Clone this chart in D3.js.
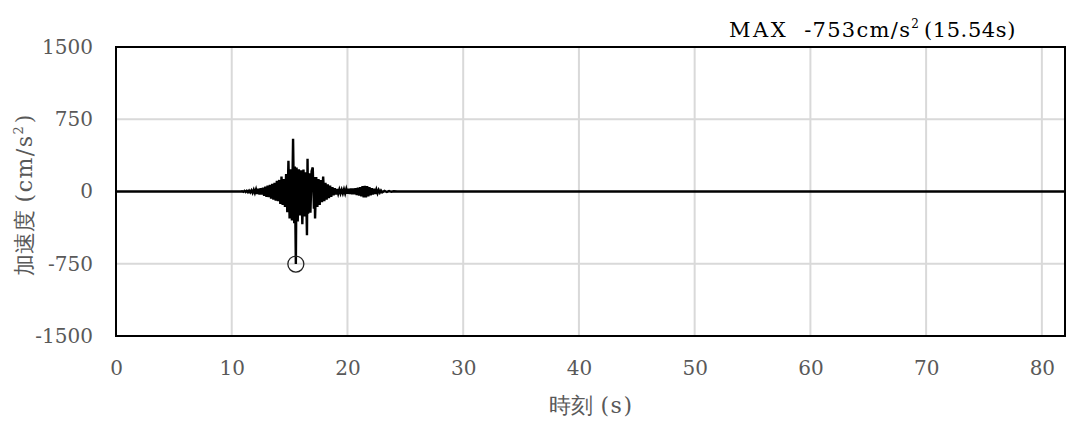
<!DOCTYPE html>
<html><head><meta charset="utf-8">
<script src="https://cdn.jsdelivr.net/npm/d3@7"></script>
<style>
html,body{margin:0;padding:0;background:#fff;}
svg{display:block;}
</style></head>
<body><svg id="c" width="1068" height="421"></svg>
<script>
const times = [0, 10.8, 10.9, 11.0, 11.1, 11.2, 11.3, 11.4, 11.5, 11.6, 11.7, 11.8, 11.9,
  12.0, 12.1, 12.2, 12.3, 12.4, 12.5, 12.6, 12.7, 12.8, 12.9,
  13.0, 13.1, 13.2, 13.3, 13.4, 13.5, 13.6, 13.7, 13.8, 13.9,
  14.0, 14.1, 14.2, 14.3, 14.4, 14.5, 14.6, 14.7, 14.8, 14.9,
  15.0, 15.1, 15.2, 15.3, 15.4, 15.45, 15.54, 15.6, 15.7, 15.8, 15.9,
  16.0, 16.1, 16.2, 16.3, 16.4, 16.5, 16.55, 16.6, 16.7, 16.8, 16.9,
  17.0, 17.1, 17.15, 17.2, 17.3, 17.4, 17.5, 17.6, 17.7, 17.8, 17.9,
  18.0, 18.1, 18.2, 18.3, 18.4, 18.5, 18.6, 18.7, 18.8, 18.9,
  19.0, 19.1, 19.2, 19.3, 19.4, 19.5, 19.6, 19.7, 19.8, 19.9,
  20.0, 20.1, 20.2, 20.3, 20.4, 20.5, 20.6, 20.7, 20.8, 20.9,
  21.0, 21.1, 21.2, 21.3, 21.4, 21.5, 21.6, 21.7, 21.8, 21.9,
  22.0, 22.1, 22.2, 22.3, 22.4, 22.5, 22.6, 22.7, 22.8, 22.9,
  23.0, 23.2, 23.4, 23.6, 23.8, 24.0, 24.3, 82];
const accel = [0, 0, 3, -4, 6, -5, 8, -7, 10, -9, 12, -14, 18,
  -16, 22, -25, 28, -30, 35, -32, 40, -45, 50,
  -55, 60, -58, 70, -75, 80, -85, 90, -95, 110,
  -100, 120, -130, 155, -140, 130, -160, 180, -215, 320,
  -280, 230, -300, 548, -330, 260, -753, 250, -310, 230, -250,
  220, -340, 228, -260, 200, -455, 340, -230, 190, -220, 210,
  250, -180, 150, -280, 150, -160, 130, -140, 120, -110, 155,
  -100, 90, -85, 75, -70, 60, -55, 45, -40, 35,
  -30, 25, -22, 20, -20, 18, -20, 22, -20, 25,
  -22, 28, -25, 30, -28, 32, -30, 35, -38, 40,
  -42, 45, -50, 55, -60, 58, -62, 55, -50, 45,
  -40, 35, -30, 28, -25, 20, -18, 15, -12, 10,
  -8, 6, -5, 4, -3, 2, 0, 0];
const xTicks = [0, 10, 20, 30, 40, 50, 60, 70, 80];
const yTicks = [1500, 750, 0, -750, -1500];
const peak = {t: 15.54, v: -753};
const titleLabel = "MAX";
const titleValue = "-753cm/s";
const titleSuffix = "(15.54s)";
const xTitleJa = "時刻";
const xTitleUnit = "(s)";
const yTitleJa = "加速度";
const yTitleUnit = "(cm/s";

const svg = d3.select("#c");
const L = 116, R = 1065, T = 47, B = 336;
const x = d3.scaleLinear().domain([0, 82]).range([L, R]);
const y = d3.scaleLinear().domain([-1500, 1500]).range([B, T]);
const serif = "'DejaVu Serif', serif";
const gray = "#595959";

// grid
svg.append("g").selectAll("line").data(xTicks.filter(d => d > 0)).join("line")
  .attr("x1", d => x(d)).attr("x2", d => x(d)).attr("y1", T).attr("y2", B)
  .attr("stroke", "#d9d9d9").attr("stroke-width", 2);
svg.append("g").selectAll("line").data(yTicks.filter(d => Math.abs(d) < 1500 && d !== 0)).join("line")
  .attr("x1", L).attr("x2", R).attr("y1", d => y(d)).attr("y2", d => y(d))
  .attr("stroke", "#d9d9d9").attr("stroke-width", 2);

// axes labels via d3 axes
const xAxis = svg.append("g").attr("transform", `translate(0,${B})`)
  .call(d3.axisBottom(x).tickValues(xTicks).tickSize(0).tickPadding(25).tickFormat(d3.format("d")));
xAxis.select(".domain").remove();
xAxis.selectAll("text").attr("font-family", serif).attr("font-size", 20).attr("fill", gray);

const yAxis = svg.append("g").attr("transform", `translate(${L},0)`)
  .call(d3.axisLeft(y).tickValues(yTicks).tickSize(0).tickPadding(23).tickFormat(d => String(d)));
yAxis.select(".domain").remove();
yAxis.selectAll("text").attr("font-family", serif).attr("font-size", 20).attr("fill", gray);

// waveform
const line = d3.line().x((d, i) => x(times[i])).y((d, i) => y(accel[i]));
svg.append("path").datum(accel).attr("d", line)
  .attr("fill", "none").attr("stroke", "#000").attr("stroke-width", 2.4).attr("stroke-linejoin", "miter");

// peak marker
svg.append("circle").attr("cx", x(peak.t)).attr("cy", y(peak.v)).attr("r", 8)
  .attr("fill", "none").attr("stroke", "#222").attr("stroke-width", 1.3);

// frame
svg.append("rect").attr("x", L).attr("y", T).attr("width", R - L).attr("height", B - T)
  .attr("fill", "none").attr("stroke", "#000").attr("stroke-width", 2);

// title
const t = svg.append("text").attr("x", 1016).attr("y", 37).attr("text-anchor", "end")
  .attr("font-family", serif).attr("font-size", 21).attr("fill", "#000");
t.append("tspan").attr("letter-spacing", 2.5).text(titleLabel);
t.append("tspan").attr("dx", 16).attr("letter-spacing", 1.3).text(titleValue);
t.append("tspan").attr("font-size", 12).attr("dy", -9).text("2");
t.append("tspan").attr("dy", 9).attr("dx", 5).attr("letter-spacing", 0.6).text(titleSuffix);

// x title
const xt = svg.append("text").attr("x", 591).attr("y", 413).attr("text-anchor", "middle")
  .attr("font-family", serif).attr("font-size", 22).attr("fill", gray);
xt.append("tspan").text(xTitleJa);
xt.append("tspan").attr("dx", 8).attr("letter-spacing", 1.5).text(xTitleUnit);

// y title
const yt = svg.append("text").attr("transform", `translate(32,${(T + B) / 2 + 4}) rotate(-90)`)
  .attr("text-anchor", "middle").attr("font-family", serif).attr("font-size", 22).attr("fill", gray);
yt.append("tspan").text(yTitleJa);
yt.append("tspan").attr("dx", 8).attr("letter-spacing", 1.5).text(yTitleUnit);
yt.append("tspan").attr("font-size", 13).attr("dy", -9).text("2");
yt.append("tspan").attr("dy", 9).attr("dx", 3).text(")");
</script></body></html>
